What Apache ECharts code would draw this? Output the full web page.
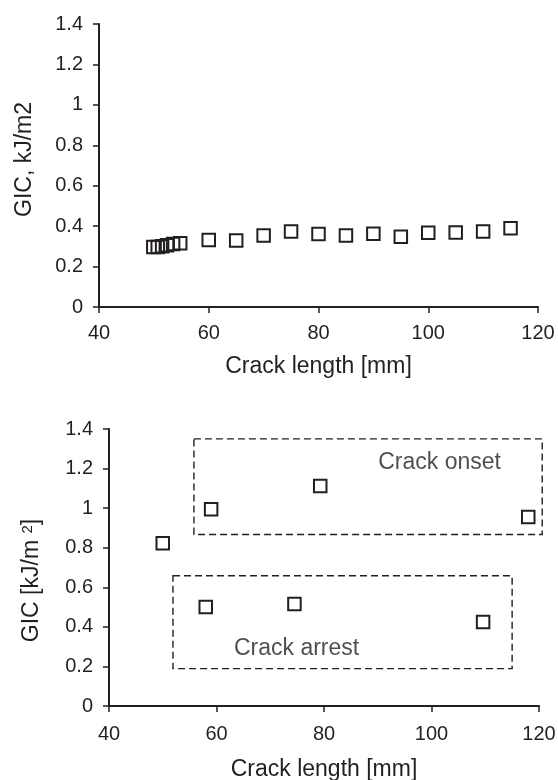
<!DOCTYPE html>
<html>
<head>
<meta charset="utf-8">
<script src="https://cdn.jsdelivr.net/npm/echarts@6/dist/echarts.min.js"></script>
<style>
html,body{margin:0;padding:0;background:#fff;}
#c{width:558px;height:780px;}
</style>
</head>
<body>
<div id="c"></div>
<script>
// ---- Data ----
const xTicks = [40, 60, 80, 100, 120];
const yTicks = [0, 0.2, 0.4, 0.6, 0.8, 1, 1.2, 1.4];

// Top chart: GIC vs crack length
const topCrack = [49.9, 50.7, 51.5, 52.4, 53.5, 54.8, 60, 65, 70, 75, 80, 85, 90, 95, 100, 105, 110, 115];
const topGIC   = [0.297, 0.297, 0.300, 0.305, 0.312, 0.315, 0.332, 0.329, 0.354, 0.374, 0.361, 0.354, 0.362, 0.347, 0.367, 0.369, 0.374, 0.390];

// Bottom chart: onset and arrest points
const botCrack = [50.0, 59.0, 79.3, 118.0, 58.0, 74.5, 109.6];
const botGIC   = [0.823, 0.995, 1.112, 0.955, 0.500, 0.515, 0.424];

// Annotation boxes (data units): [xMin, xMax, yMin, yMax]
const onsetBox  = [55.8, 120.6, 0.867, 1.350];
const arrestBox = [51.9, 115.0, 0.189, 0.658];
const onsetLabel  = ['Crack onset', 101.5, 1.228];
const arrestLabel = ['Crack arrest', 74.9, 0.292];

// ---- Chart ----
const INK = '#231f20';
const FONT = "'Liberation Sans', Arial, sans-serif";

function xAxis(gridIndex, gap, margin){
  return {
    type:'value', gridIndex, min:xTicks[0], max:xTicks[xTicks.length-1], interval:20,
    name:'Crack length [mm]', nameLocation:'middle', nameGap:gap,
    nameTextStyle:{fontFamily:FONT, fontSize:23, color:INK},
    axisLine:{show:true, onZero:false, lineStyle:{color:INK, width:2}},
    axisTick:{show:true, inside:false, length:6, lineStyle:{color:INK, width:1.5}},
    axisLabel:{fontFamily:FONT, fontSize:20, color:INK, margin},
    splitLine:{show:false}
  };
}
function yAxis(gridIndex, name, gap, pad, rich){
  const ax = {
    type:'value', gridIndex, min:yTicks[0], max:yTicks[yTicks.length-1], interval:0.2,
    name, nameLocation:'middle', nameGap:gap, nameRotate:90,
    nameTextStyle:{fontFamily:FONT, fontSize:23, color:INK, padding:pad},
    axisLine:{show:true, onZero:false, lineStyle:{color:INK, width:2}},
    axisTick:{show:true, inside:false, length:6, lineStyle:{color:INK, width:1.5}},
    axisLabel:{fontFamily:FONT, fontSize:20, color:INK, margin:16,
      formatter:v=>String(Math.round(v*10)/10)},
    splitLine:{show:false}
  };
  if(rich) ax.nameTextStyle.rich = rich;
  return ax;
}

const sq = {
  type:'scatter', symbol:'rect', symbolSize:12.5,
  itemStyle:{color:'rgba(255,255,255,0)', borderColor:INK, borderWidth:2, opacity:1},
  silent:true
};

function boxRender(params, api){
  const p1 = api.coord([api.value(0), api.value(3)]);
  const p2 = api.coord([api.value(1), api.value(2)]);
  return {
    type:'rect',
    shape:{x:p1[0], y:p1[1], width:p2[0]-p1[0], height:p2[1]-p1[1]},
    style:{fill:null, stroke:INK, lineWidth:1.4, lineDash:[7,4]}
  };
}

const option = {
  animation:false,
  backgroundColor:'#fff',
  grid:[
    {left:99, top:24, width:439, height:283, containLabel:false, outerBoundsMode:'none'},
    {left:109, top:429, width:430, height:277, containLabel:false, outerBoundsMode:'none'}
  ],
  xAxis:[xAxis(0, 48, 16), xAxis(1, 52, 18)],
  yAxis:[
    yAxis(0, 'GIC, kJ/m2', 63, [0,0,0,12]),
    yAxis(1, '{n|GIC [kJ/m }{s|2}{n|]}', 66, [0,26,0,0], {
      n:{fontFamily:FONT, fontSize:23, color:INK},
      s:{fontFamily:FONT, fontSize:15, color:INK, verticalAlign:'top', padding:[0,0,8,0]}
    })
  ],
  series:[
    Object.assign({}, sq, {xAxisIndex:0, yAxisIndex:0, data:topCrack.map((x,i)=>[x, topGIC[i]])}),
    Object.assign({}, sq, {xAxisIndex:1, yAxisIndex:1, data:botCrack.map((x,i)=>[x, botGIC[i]])}),
    {type:'custom', xAxisIndex:1, yAxisIndex:1, silent:true, clip:false,
      renderItem:boxRender, data:[onsetBox, arrestBox]},
    {type:'scatter', xAxisIndex:1, yAxisIndex:1, symbolSize:0, silent:true,
      label:{show:true, position:'inside', formatter:p=>p.name, fontFamily:FONT, fontSize:23, color:INK},
      data:[onsetLabel, arrestLabel].map(a=>({name:a[0], value:[a[1], a[2]]}))}
  ]
};

const chart = echarts.init(document.getElementById('c'), null, {renderer:'canvas'});
chart.setOption(option);
</script>
</body>
</html>
